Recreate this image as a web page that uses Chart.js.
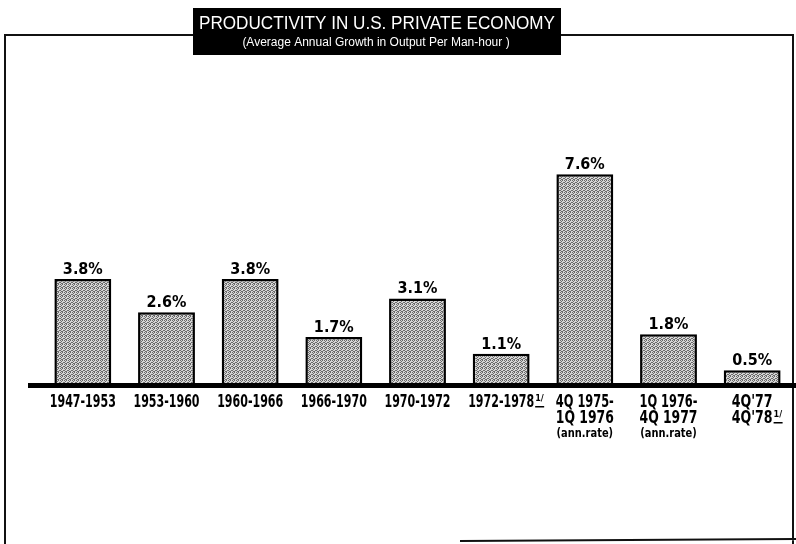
<!DOCTYPE html>
<html>
<head>
<meta charset="utf-8">
<script src="https://cdn.jsdelivr.net/npm/chart.js@4.4.0/dist/chart.umd.min.js"></script>
<style>
  html, body { margin: 0; padding: 0; background: #fff; }
  #wrap { width: 796px; height: 544px; position: relative; }
</style>
</head>
<body>
<div id="wrap"><canvas id="chart" width="796" height="544"></canvas></div>
<script>
// Data
const categories = [
    ['1947-1953'], ['1953-1960'], ['1960-1966'], ['1966-1970'], ['1970-1972'],
    ['1972-1978'], ['4Q 1975-', '1Q 1976'], ['1Q 1976-', '4Q 1977'], ["4Q'77", "4Q'78"]
];
const notes = ['', '', '', '', '', '', '(ann.rate)', '(ann.rate)', ''];
const footnoted = [false, false, false, false, false, true, false, false, true];
const growth = [3.8, 2.6, 3.8, 1.7, 3.1, 1.1, 7.6, 1.8, 0.5];

const titleText = 'PRODUCTIVITY IN U.S. PRIVATE ECONOMY';
const subtitleText = '(Average Annual Growth in Output Per Man-hour )';

// dithered gray fill like the printed halftone
function makePattern() {
    const c = document.createElement('canvas');
    c.width = 4; c.height = 4;
    const g = c.getContext('2d');
    g.fillStyle = '#d6d6d6';
    g.fillRect(0, 0, 4, 4);
    g.fillStyle = '#6a6a6a';
    const dots = [[0, 0], [2, 0], [1, 1], [3, 2], [0, 2], [2, 3], [1, 3]];
    dots.forEach(d => g.fillRect(d[0], d[1], 1, 1));
    return g.createPattern(c, 'repeat');
}

// tall, narrow lettering like the hand-set labels
function tallText(ctx, text, x, y, maxW, stretch) {
    ctx.save();
    ctx.translate(x, y);
    ctx.scale(1, stretch);
    ctx.fillText(text, 0, 0, maxW);
    ctx.restore();
}

const frame = {
    id: 'frame',
    beforeDraw(chart) {
        const ctx = chart.ctx;
        ctx.save();
        ctx.fillStyle = '#fff';
        ctx.fillRect(0, 0, chart.width, chart.height);
        ctx.strokeStyle = '#111';
        ctx.lineWidth = 2;
        ctx.beginPath();
        ctx.moveTo(5, 544); ctx.lineTo(5, 35); ctx.lineTo(793, 35); ctx.lineTo(793, 544);
        ctx.moveTo(460, 541); ctx.lineTo(796, 539);
        ctx.stroke();
        ctx.restore();
    },
    afterDraw(chart) {
        const ctx = chart.ctx;
        ctx.save();
        // title box
        ctx.fillStyle = '#000';
        ctx.fillRect(193, 8, 368, 47);
        ctx.fillStyle = '#fff';
        ctx.textAlign = 'center';
        ctx.textBaseline = 'alphabetic';
        ctx.font = '19px "Liberation Sans", sans-serif';
        ctx.fillText(titleText, 377, 29, 356);
        ctx.font = '12px "Liberation Sans", sans-serif';
        ctx.fillText(subtitleText, 376, 46, 306);
        ctx.restore();
    }
};

const labels = {
    id: 'labels',
    afterDatasetsDraw(chart) {
        const ctx = chart.ctx;
        const x = chart.scales.x;
        const y = chart.scales.y;
        const meta = chart.getDatasetMeta(0);
        const base = y.getPixelForValue(0);
        ctx.save();

        // thick baseline
        ctx.fillStyle = '#000';
        ctx.fillRect(28, base - 1, 768, 5);

        ctx.fillStyle = '#000';
        ctx.textAlign = 'center';
        meta.data.forEach((bar, i) => {
            // value above bar
            ctx.font = 'bold 16px "DejaVu Sans Condensed", sans-serif';
            ctx.fillText(growth[i].toFixed(1) + '%', bar.x, bar.y - 5);

            // category text below the axis
            const cx = x.getPixelForValue(i);
            ctx.font = 'bold 14px "DejaVu Sans Condensed", sans-serif';
            let ly = base + 23;
            categories[i].forEach((line, j) => {
                const maxW = line.length > 8 ? 66 : 58;
                const w = Math.min(ctx.measureText(line).width, maxW);
                tallText(ctx, line, cx, ly, maxW, 1.25);
                if (footnoted[i] && j === categories[i].length - 1) {
                    ctx.save();
                    ctx.font = 'bold 9px "DejaVu Sans Condensed", sans-serif';
                    ctx.textAlign = 'left';
                    const fx = cx + w / 2 + 1;
                    ctx.fillText('1/', fx, ly - 6);
                    ctx.fillRect(fx, ly - 1, 9, 1.5);
                    ctx.restore();
                }
                ly += 16;
            });
            if (notes[i]) {
                ctx.font = 'bold 11px "DejaVu Sans Condensed", sans-serif';
                tallText(ctx, notes[i], cx, ly - 2, 58, 1.15);
            }
        });
        ctx.restore();
    }
};

const ctx = document.getElementById('chart').getContext('2d');
const chart = new Chart(ctx, {
    type: 'bar',
    data: {
        labels: categories.map(c => c.join(' ')),
        datasets: [{
            data: growth,
            backgroundColor: makePattern(),
            borderColor: '#000',
            borderWidth: 2.5,
            borderSkipped: 'bottom',
            categoryPercentage: 1,
            barPercentage: 0.68
        }]
    },
    options: {
        responsive: false,
        animation: false,
        events: [],
        layout: { padding: { top: 108, bottom: 160, left: 41, right: 2 } },
        plugins: {
            legend: { display: false },
            tooltip: { enabled: false }
        },
        scales: {
            x: { display: false },
            y: { display: false, min: 0, max: 10 }
        }
    },
    plugins: [frame, labels]
});
</script>
</body>
</html>
